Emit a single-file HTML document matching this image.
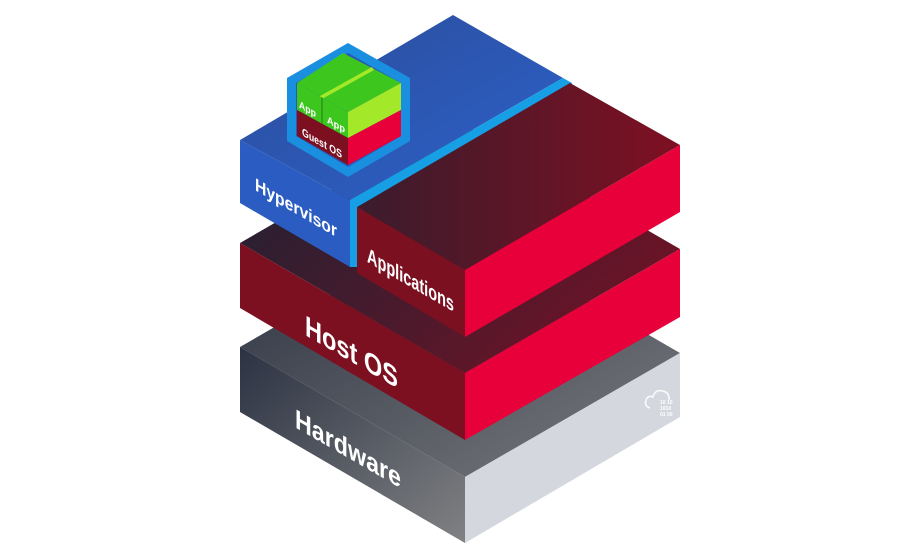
<!DOCTYPE html>
<html><head><meta charset="utf-8"><style>
html,body{margin:0;padding:0;background:#fff;width:920px;height:560px;overflow:hidden}
svg{display:block}
text{font-family:"Liberation Sans",sans-serif;font-weight:bold;fill:#fff}
</style></head><body>
<svg width="920" height="560" viewBox="0 0 920 560" xmlns="http://www.w3.org/2000/svg">
<defs>
<linearGradient id="hwL" x1="0" y1="0" x2="1" y2="1"><stop offset="0" stop-color="#2b3242"/><stop offset="1" stop-color="#808183"/></linearGradient>
<linearGradient id="hwT" x1="0" y1="0" x2="1" y2="1"><stop offset="0" stop-color="#2a3140"/><stop offset="1" stop-color="#7a7b7e"/></linearGradient>
<linearGradient id="osT" x1="0" y1="0" x2="1" y2="0.6"><stop offset="0" stop-color="#1b2234"/><stop offset="0.6" stop-color="#4a1a2c"/><stop offset="1" stop-color="#6e1326"/></linearGradient>
<linearGradient id="apT" x1="0" y1="0.5" x2="1" y2="0.5"><stop offset="0" stop-color="#3a1c2c"/><stop offset="1" stop-color="#7e1022"/></linearGradient>
<linearGradient id="hvT" x1="0" y1="0" x2="1" y2="1"><stop offset="0" stop-color="#2a4c98"/><stop offset="1" stop-color="#2e62cc"/></linearGradient>
</defs>
<!-- Hardware -->
<polygon points="240,347 455,223 680,353 465,477" fill="url(#hwT)"/>
<polygon points="240,347 465,477 465,543 240,412" fill="url(#hwL)"/>
<polygon points="465,477 680,353 680,417 465,543" fill="#d4d8de"/>
<g fill="none" stroke="#fff" stroke-width="1.5" opacity="0.9">
<path d="M650,408 q-6,-2 -4,-8 q2,-5 7,-3 q2,-8 10,-6 q7,2 6,9"/>
</g>
<g fill="#fff"><text x="660" y="404" style="font-size:5px">10 10</text><text x="660" y="410" style="font-size:5px">1010</text><text x="660" y="416" style="font-size:5px">01 00</text></g>
<!-- Host OS -->
<polygon points="240,243 455,119 680,249 465,373" fill="url(#osT)"/>
<polygon points="240,243 465,373 465,440 240,308" fill="#7d1020"/>
<polygon points="465,373 680,249 680,317 465,440" fill="#e8003a"/>
<!-- Hypervisor -->
<polygon points="240,140 453,15 563,78 350,200" fill="url(#hvT)"/>
<polygon points="240,140 350,200 350,267 240,203" fill="#2b5cc2"/>
<polygon points="350,200 563,78 572,83 572,92 357,216 357,267 350,267" fill="#169fe4"/>
<!-- Applications -->
<polygon points="357,207 570,83 680,145 465,270" fill="url(#apT)"/>
<polygon points="357,207 465,270 465,337 357,273" fill="#7a1020"/>
<polygon points="465,270 680,145 680,212 465,337" fill="#e8003a"/>
<!-- VM -->
<polygon points="348,43 410,78 410,141 348,177 287,141 287,78" fill="#1a8fe0"/>
<polygon points="348,53 401,83 401,136 348,167 296,136 296,83" fill="#2a58b4"/>
<polygon points="343,53 401,83 348,112 297,83" fill="#3cc61e"/>
<polygon points="297,83 348,112 348,138 297,110" fill="#3cc61e"/>
<polygon points="297,110 348,138 348,165 297,136" fill="#7d1020"/>
<polygon points="348,112 401,83 401,110 348,138" fill="#a4e82a"/>
<polygon points="348,138 401,110 401,136 348,165" fill="#e8003a"/>
<polygon points="320,96 372,67 374,70 322,99" fill="#a4e82a"/>
<polygon points="321,97 323,98 323,124 321,123" fill="#2fa018"/>
<!-- labels -->
<g transform="matrix(1,0.577,0,1,0,0)">
<text x="295" y="257" font-size="27" textLength="106" lengthAdjust="spacingAndGlyphs">Hardware</text>
<text x="305" y="159" font-size="29" textLength="93" lengthAdjust="spacingAndGlyphs">Host OS</text>
<text x="367" y="50" font-size="21" textLength="87" lengthAdjust="spacingAndGlyphs">Applications</text>
<text x="255" y="43" font-size="18" textLength="82" lengthAdjust="spacingAndGlyphs">Hypervisor</text>
<text x="302" y="-39" font-size="11" textLength="40" lengthAdjust="spacingAndGlyphs">Guest OS</text>
<text x="299" y="-65" font-size="10" textLength="17" lengthAdjust="spacingAndGlyphs">App</text>
<text x="327" y="-66" font-size="10" textLength="18" lengthAdjust="spacingAndGlyphs">App</text>
</g>
</svg>
</body></html>
